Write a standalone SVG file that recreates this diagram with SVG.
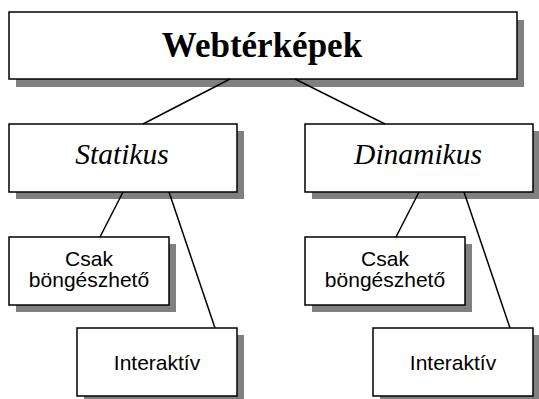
<svg xmlns="http://www.w3.org/2000/svg" width="539" height="399" viewBox="0 0 539 399">
<style>
.sh{fill:#808080;stroke:none}
.bx{fill:#fff;stroke:#000;stroke-width:1.5}
.ln{stroke:#000;stroke-width:1.5;fill:none}
.t1{font-family:"Liberation Serif",serif;font-weight:bold;font-size:35px;text-anchor:middle}
.t2{font-family:"Liberation Serif",serif;font-style:italic;font-size:29.5px;text-anchor:middle}
.t3{font-family:"Liberation Sans",Arial,sans-serif;font-size:21px;text-anchor:middle}
</style>
<g id="webterkepek">
<rect class="sh" x="16" y="20" width="508" height="67"/>
<rect class="bx" x="9" y="12" width="508" height="67"/>
<text class="t1" x="262" y="57">Webtérképek</text>
</g>
<g id="statikus">
<rect class="sh" x="16" y="131" width="228" height="68"/>
<rect class="bx" x="9" y="124" width="228" height="68"/>
<text class="t2" x="122" y="164">Statikus</text>
</g>
<g id="dinamikus">
<rect class="sh" x="312" y="131" width="228" height="68"/>
<rect class="bx" x="305" y="124" width="228" height="68"/>
<text class="t2" x="418" y="164">Dinamikus</text>
</g>
<g id="statikus-csak">
<rect class="sh" x="16" y="244" width="160" height="68"/>
<rect class="bx" x="9" y="237" width="160" height="68"/>
<text class="t3" x="89" y="266">Csak</text>
<text class="t3" x="89" y="287">böngészhető</text>
</g>
<g id="statikus-interaktiv">
<rect class="sh" x="84" y="335" width="160" height="68"/>
<rect class="bx" x="77" y="328" width="160" height="68"/>
<text class="t3" x="157" y="370">Interaktív</text>
</g>
<g id="dinamikus-csak">
<rect class="sh" x="312" y="244" width="160" height="68"/>
<rect class="bx" x="305" y="237" width="160" height="68"/>
<text class="t3" x="385" y="266">Csak</text>
<text class="t3" x="385" y="287">böngészhető</text>
</g>
<g id="dinamikus-interaktiv">
<rect class="sh" x="380" y="335" width="160" height="68"/>
<rect class="bx" x="373" y="328" width="160" height="68"/>
<text class="t3" x="453" y="370">Interaktív</text>
</g>
<g id="connectors">
<line class="ln" x1="230" y1="79" x2="143" y2="124"/>
<line class="ln" x1="295" y1="79" x2="385" y2="124"/>
<line class="ln" x1="123" y1="192" x2="100" y2="237"/>
<line class="ln" x1="169" y1="192" x2="215" y2="328"/>
<line class="ln" x1="419" y1="192" x2="396" y2="237"/>
<line class="ln" x1="464" y1="192" x2="510" y2="328"/>
</g>
</svg>
